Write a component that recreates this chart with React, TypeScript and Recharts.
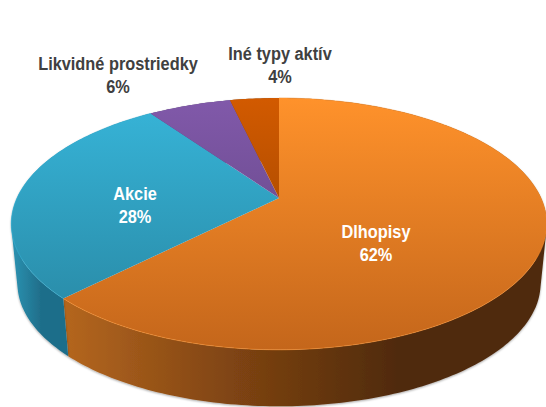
import { Pie, PieChart } from "recharts";

const categories = ["Dlhopisy", "Akcie", "Likvidné prostriedky", "Iné typy aktív"];
// printed labels are rounded, the slices are read from their boundaries
const shares = [62.4, 27.9, 6.1, 3.6];
const faceTop = ["#FF922B", "#37B5D9", "#8159AA", "#D25A00"];
const faceBottom = ["#C4661B", "#27849F", "#5A4079", "#8A3E00"];
const wallStops = [
  ["#B4661F", "#7F4412", "#4F2A0C"],
  ["#2C93B2", "#1F6E8A", "#1F6E8A"],
  ["#5A4079", "#5A4079", "#5A4079"],
  ["#8A3E00", "#8A3E00", "#8A3E00"],
];

const labelAnchors = [
  { x: 376, y: 238, color: "#FFFFFF" },
  { x: 135, y: 200, color: "#FFFFFF" },
  { x: 118, y: 70, color: "#404040" },
  { x: 280, y: 60, color: "#404040" },
];

const rows = categories.map((name, index) => ({ name, value: shares[index], index }));

const SQUASH = 0.46;
const PERSPECTIVE = 0.206;
const WALL_SCALE = 0.977;
const WALL_DROP = 60;

type Pt = { x: number; y: number };

// circle point -> tilted disc point, the apex stays off the ellipse centre
function project(cx: number, cy: number, radius: number, deg: number): Pt {
  const t = ((90 - deg) * Math.PI) / 180;
  const u = Math.sin(t);
  const v = -Math.cos(t);
  const d = 1 - PERSPECTIVE * v;
  return { x: cx + (radius * u) / d, y: cy + (radius * SQUASH * v) / d };
}

function arcPoints(cx: number, cy: number, radius: number, from: number, to: number) {
  const steps = Math.max(2, Math.ceil(Math.abs(from - to)));
  const points: Pt[] = [];
  for (let i = 0; i <= steps; i++) {
    points.push(project(cx, cy, radius, from + ((to - from) * i) / steps));
  }
  return points;
}

const toPath = (points: Pt[]) =>
  points.map((p, i) => `${i === 0 ? "M" : "L"}${p.x.toFixed(2)} ${p.y.toFixed(2)}`).join(" ");

function signedArea(points: Pt[]) {
  return points.reduce((sum, p, i) => {
    const q = points[(i + 1) % points.length];
    return sum + p.x * q.y - q.x * p.y;
  }, 0);
}

function FaceShape(props: any) {
  const { cx, cy, outerRadius, startAngle, endAngle, payload } = props;
  const rim = arcPoints(cx, cy, outerRadius, startAngle, endAngle);
  return (
    <g>
      <path
        d={`M${cx} ${cy} ${toPath(rim).replace("M", "L")} Z`}
        fill={`url(#face${payload.index})`}
      />
      {payload.index < 2 && (
        <path d={toPath(rim)} fill="none" stroke={faceTop[payload.index]} strokeOpacity={0.55} />
      )}
    </g>
  );
}

function WallShape(props: any) {
  const { cx, cy, outerRadius, startAngle, endAngle, payload } = props;
  const upper = arcPoints(cx, cy, outerRadius, startAngle, endAngle);
  const lower = arcPoints(cx, cy + WALL_DROP, outerRadius * WALL_SCALE, startAngle, endAngle);
  // quads wound the same way inside one path: no seams, silhouette stays filled
  const d = upper
    .slice(1)
    .map((p, i) => {
      const quad = [upper[i], p, lower[i + 1], lower[i]];
      return toPath(signedArea(quad) < 0 ? quad.reverse() : quad) + " Z";
    })
    .join(" ");
  return <path d={d} fill={`url(#wall${payload.index})`} filter="url(#wallShadow)" />;
}

function SliceLabel(props: any) {
  const anchor = labelAnchors[props.index];
  return (
    <text
      transform={`translate(${anchor.x} 0) scale(0.86 1)`}
      y={anchor.y}
      textAnchor="middle"
      fill={anchor.color}
      fontFamily="'Liberation Sans', sans-serif"
      fontWeight={700}
      fontSize={19}
    >
      <tspan x={0}>{props.name}</tspan>
      <tspan x={0} dy={23}>
        {Math.round(props.value)}%
      </tspan>
    </text>
  );
}

export default function App() {
  return (
    <div style={{ position: "absolute", left: 0, top: 0, width: 546, height: 407, overflow: "hidden" }}>
      <PieChart width={546} height={407} margin={{ top: 0, right: 0, bottom: 0, left: 0 }}>
        <defs>
          {shares.map((_, i) => (
            <linearGradient key={i} id={`face${i}`} gradientUnits="userSpaceOnUse" x1={0} y1={98} x2={0} y2={350}>
              <stop offset="0%" stopColor={faceTop[i]} />
              <stop offset="100%" stopColor={faceBottom[i]} />
            </linearGradient>
          ))}
          {wallStops.map((stops, i) => (
            <linearGradient key={i} id={`wall${i}`} gradientUnits="userSpaceOnUse" x1={i === 1 ? 12 : 65} y1={0} x2={i === 1 ? 70 : 400} y2={0}>
              <stop offset="0%" stopColor={stops[0]} />
              <stop offset="50%" stopColor={stops[1]} />
              <stop offset="100%" stopColor={stops[2]} />
            </linearGradient>
          ))}
          <filter id="wallShadow" x="-10%" y="-10%" width="120%" height="120%">
            <feDropShadow dx={0} dy={1} stdDeviation={1.2} floodColor="#000000" floodOpacity={0.35} />
          </filter>
        </defs>
        <Pie
          data={rows}
          dataKey="value"
          cx={279}
          cy={198}
          outerRadius={262}
          startAngle={90}
          endAngle={-270}
          stroke="none"
          shape={WallShape}
          isAnimationActive={false}
        />
        <Pie
          data={rows}
          dataKey="value"
          nameKey="name"
          cx={279}
          cy={198}
          outerRadius={262}
          startAngle={90}
          endAngle={-270}
          stroke="none"
          shape={FaceShape}
          label={SliceLabel}
          labelLine={false}
          isAnimationActive={false}
        />
      </PieChart>
    </div>
  );
}
